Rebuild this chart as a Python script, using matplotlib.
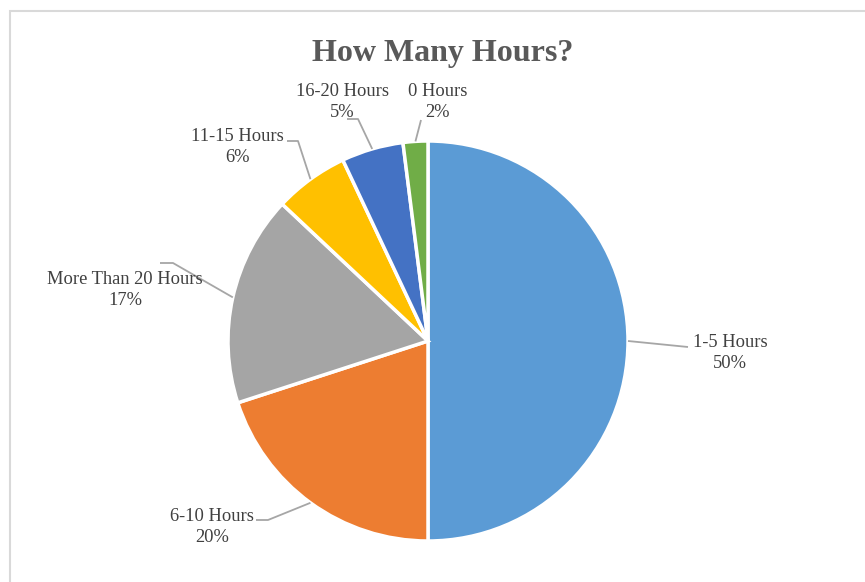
import numpy as np
import matplotlib
matplotlib.use("Agg")
import matplotlib.pyplot as plt
from matplotlib.patches import Rectangle

# survey answers, clockwise from 12 o'clock
categories = ["1-5 Hours", "6-10 Hours", "More Than 20 Hours",
              "11-15 Hours", "16-20 Hours", "0 Hours"]
percents = [50, 20, 17, 6, 5, 2]
colors = ["#5B9BD5", "#ED7D31", "#A5A5A5", "#FFC000", "#4472C4", "#70AD47"]

W, H = 865, 582
# label centre and leader elbow/end, in pixels from the top-left corner
label_pos = [(730, 353), (212, 527), (125, 290), (237, 147), (342, 102), (438, 102)]
leader_pts = [[(688, 347)],
              [(268, 520), (256, 520)],
              [(173, 263), (160, 263)],
              [(298, 141), (287, 141)],
              [(358, 119), (347, 119)],
              [(421, 120)]]

cx, cy, r = 428, 341, 200


def fy(y):
    return H - y


fig = plt.figure(figsize=(W / 100, H / 100), dpi=100)
ax = fig.add_axes([0, 0, 1, 1])

wedges, _ = ax.pie(percents, colors=colors, startangle=90, counterclock=False,
                   center=(cx, fy(cy)), radius=r,
                   wedgeprops=dict(edgecolor="white", linewidth=2.5))
# pie() resets the limits, so set the pixel frame afterwards
ax.set_xlim(0, W)
ax.set_ylim(0, H)
ax.set_aspect("equal")
ax.axis("off")

for w, name, pct, (lx, ly), pts in zip(wedges, categories, percents, label_pos, leader_pts):
    mid = np.deg2rad((w.theta1 + w.theta2) / 2)
    ax0 = cx + r * np.cos(mid)
    ay0 = fy(cy) + r * np.sin(mid)
    xs = [ax0] + [p[0] for p in pts]
    ys = [ay0] + [fy(p[1]) for p in pts]
    ax.plot(xs, ys, color="#A6A6A6", lw=1.3, solid_capstyle="butt")
    ax.text(lx, fy(ly), f"{name}\n{pct}%", ha="center", va="center",
            fontsize=13.3, color="#404040", family="Liberation Serif",
            linespacing=1.3)

ax.text(443, fy(53), "How Many Hours?", ha="center", va="center",
        fontsize=23, fontweight="bold", color="#595959", family="Liberation Serif")

# chart frame
fig.patches.append(Rectangle((10 / W, -0.05), 2, fy(11) / H + 0.05,
                             transform=fig.transFigure, fill=False,
                             edgecolor="#D9D9D9", lw=1.5))

fig.savefig("out.png", dpi=100, facecolor="white")
